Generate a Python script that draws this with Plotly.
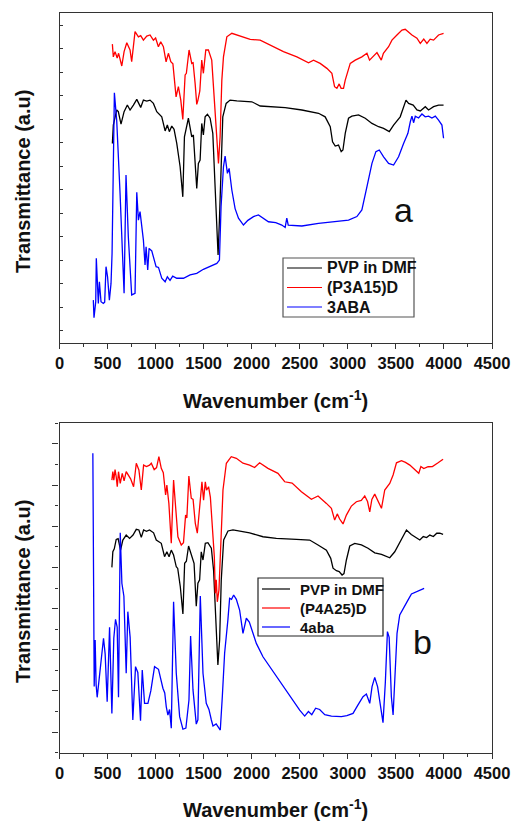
import plotly.graph_objects as go

# ---------------- Panel a data (wavenumber cm-1, transmittance a.u.) ----------------
a_pvp_x = [550, 560, 595, 612, 640, 672, 706, 734, 769, 804, 845, 873, 908, 942, 977, 1012, 1064, 1099, 1122, 1143,
           1168, 1192, 1220, 1255, 1283, 1300, 1341, 1359, 1376, 1393, 1418, 1428, 1445, 1463, 1480, 1497, 1515, 1539,
           1567, 1595, 1619, 1637, 1650, 1664, 1678, 1699, 1734, 1775, 1845, 2001, 2088, 2174, 2348, 2522, 2695, 2764,
           2817, 2841, 2869, 2903, 2931, 2949, 2973, 3007, 3042, 3111, 3181, 3251, 3320, 3372, 3431, 3476, 3545, 3605,
           3632, 3680, 3719, 3754, 3806, 3840, 3892, 3944, 3996]
a_pvp_y = [8.47, 9.25, 9.89, 9.82, 9.29, 9.82, 10.1, 9.89, 10.1, 10.34, 10.0, 10.31, 10.27, 10.31, 10.17, 9.82, 9.6, 9.0,
           9.25, 8.97, 9.21, 9.07, 8.47, 7.48, 6.2, 8.75, 9.54, 9.18, 8.75, 8.83, 7.2, 6.56, 7.62, 7.76, 9.32, 8.83, 9.6,
           9.71, 9.54, 8.9, 6.63, 4.93, 3.73, 5.21, 7.34, 9.6, 10.17, 10.31, 10.28, 10.24, 10.06, 10.03, 9.99, 9.89, 9.75,
           9.6, 9.18, 8.54, 8.36, 8.4, 8.12, 8.19, 8.9, 9.54, 9.63, 9.68, 9.54, 9.32, 9.18, 9.11, 8.97, 9.25, 9.6, 10.31,
           10.17, 10.1, 9.89, 9.85, 10.03, 9.89, 10.03, 10.1, 10.1]

a_red_x = [550, 560, 578, 600, 615, 630, 648, 672, 700, 734, 751, 786, 821, 845, 873, 908, 942, 977, 1000, 1029, 1053,
           1081, 1109, 1133, 1158, 1180, 1213, 1237, 1262, 1283, 1307, 1320, 1348, 1376, 1390, 1411, 1428, 1440, 1460,
           1480, 1497, 1522, 1549, 1584, 1608, 1637, 1654, 1671, 1689, 1706, 1741, 1793, 1845, 1984, 2088, 2192, 2330,
           2470, 2591, 2643, 2712, 2782, 2834, 2862, 2886, 2910, 2930, 2955, 2973, 3025, 3077, 3146, 3199, 3226, 3260,
           3303, 3348, 3370, 3424, 3459, 3511, 3563, 3597, 3630, 3667, 3719, 3754, 3790, 3823, 3857, 3892, 3944, 3996]
a_red_y = [12.69, 12.15, 12.37, 12.1, 12.3, 12.01, 11.76, 12.37, 12.75, 12.44, 11.94, 13.22, 13.0, 13.05, 12.86, 13.03,
           13.08, 12.86, 12.95, 12.58, 12.79, 12.58, 11.94, 12.3, 11.94, 11.85, 10.45, 10.88, 10.31, 9.49, 11.38, 11.45,
           12.44, 11.87, 11.9, 11.02, 10.13, 10.3, 10.7, 12.01, 11.45, 12.44, 12.44, 12.01, 10.45, 8.9, 7.62, 8.75, 11.16,
           12.15, 13.0, 13.15, 13.08, 12.89, 12.86, 12.65, 12.37, 12.15, 11.9, 12.01, 11.87, 11.66, 11.45, 10.88, 10.81,
           11.0, 10.81, 10.81, 11.16, 11.87, 12.01, 12.15, 12.3, 12.01, 12.15, 12.33, 12.01, 12.3, 12.58, 12.86, 13.08,
           13.29, 13.32, 13.2, 13.08, 12.94, 12.72, 12.9, 12.72, 12.9, 12.86, 13.08, 13.15]

a_blue_x = [352, 359, 377, 383, 404, 415, 432, 456, 470, 484, 500, 519, 536, 547, 571, 595, 630, 672, 692, 716, 751,
            786, 804, 821, 838, 873, 890, 901, 918, 932, 960, 1005, 1030, 1064, 1099, 1122, 1150, 1178, 1220, 1290, 1359,
            1428, 1497, 1567, 1637, 1664, 1681, 1706, 1723, 1747, 1765, 1793, 1827, 1862, 1914, 1960, 2018, 2070, 2120,
            2174, 2250, 2313, 2348, 2365, 2380, 2470, 2522, 2695, 2869, 3007, 3094, 3146, 3199, 3251, 3292, 3327, 3372,
            3424, 3476, 3528, 3580, 3625, 3650, 3667, 3685, 3702, 3736, 3771, 3805, 3840, 3875, 3910, 3944, 3979, 3996]
a_blue_y = [1.81, 1.06, 1.74, 3.59, 1.67, 2.59, 1.74, 1.67, 1.72, 3.23, 2.8, 1.81, 2.52, 3.8, 10.62, 9.46, 6.35, 2.1,
            7.13, 4.5, 2.03, 2.1, 6.39, 5.21, 5.57, 4.36, 3.3, 4.08, 3.09, 4.01, 3.9, 3.23, 3.2, 2.74, 2.59, 2.8, 2.65,
            2.83, 2.74, 2.74, 2.88, 2.95, 3.12, 3.23, 3.37, 3.51, 5.78, 7.48, 7.93, 7.2, 7.41, 6.49, 5.7, 5.29, 5.0, 5.2,
            5.36, 5.43, 5.3, 5.14, 5.1, 5.0, 4.9, 5.29, 5.0, 4.96, 4.96, 5.07, 5.14, 5.21, 5.36, 5.64, 6.63, 7.62, 8.12,
            8.19, 7.9, 7.62, 7.55, 7.9, 8.47, 8.9, 9.39, 9.63, 9.35, 9.63, 9.55, 9.72, 9.6, 9.63, 9.55, 9.63, 9.46, 9.25,
            8.69]

# ---------------- Panel b data ----------------
b_pvp_x = [545, 555, 570, 590, 610, 635, 659, 694, 729, 765, 799, 826, 851, 875, 905, 937, 979, 1007, 1059, 1093, 1117,
           1140, 1163, 1187, 1215, 1230, 1257, 1284, 1302, 1320, 1343, 1370, 1388, 1400, 1423, 1440, 1458, 1475, 1493,
           1517, 1544, 1580, 1603, 1631, 1648, 1666, 1683, 1708, 1753, 1805, 1978, 2117, 2256, 2465, 2603, 2690, 2777,
           2822, 2846, 2881, 2910, 2940, 2960, 2985, 3020, 3072, 3141, 3210, 3280, 3350, 3436, 3488, 3558, 3610, 3660,
           3714, 3749, 3785, 3820, 3853, 3890, 3925, 3957, 3991]
b_pvp_y = [9.0, 9.76, 9.9, 10.36, 10.4, 9.84, 10.33, 10.57, 10.41, 10.57, 10.85, 10.82, 10.46, 10.82, 10.75, 10.82,
           10.68, 10.33, 10.17, 9.52, 9.76, 9.52, 9.84, 9.6, 9.03, 8.95, 8.06, 6.74, 9.2, 9.3, 10.04, 9.6, 9.36, 9.2,
           7.12, 8.23, 8.4, 9.76, 9.36, 10.17, 10.2, 9.93, 8.87, 6.12, 4.26, 5.47, 8.39, 10.33, 10.77, 10.82, 10.68,
           10.49, 10.41, 10.36, 10.33, 10.09, 9.84, 9.44, 8.96, 8.84, 8.8, 8.63, 8.7, 9.36, 10.04, 10.17, 10.09, 9.93,
           9.71, 9.63, 9.47, 9.76, 10.33, 10.82, 10.6, 10.41, 10.33, 10.5, 10.45, 10.57, 10.5, 10.66, 10.66, 10.61]

b_red_x = [545, 555, 565, 578, 590, 601, 614, 632, 653, 672, 694, 715, 740, 771, 799, 826, 851, 875, 905, 937, 955, 985,
           1010, 1034, 1059, 1080, 1104, 1117, 1138, 1163, 1187, 1208, 1232, 1267, 1290, 1312, 1325, 1346, 1371, 1390,
           1413, 1434, 1458, 1482, 1499, 1517, 1530, 1551, 1570, 1597, 1611, 1621, 1631, 1642, 1659, 1683, 1701, 1736,
           1787, 1840, 1909, 1978, 2030, 2082, 2169, 2273, 2343, 2420, 2517, 2621, 2690, 2777, 2829, 2863, 2890, 2915,
           2950, 2985, 3037, 3089, 3140, 3176, 3205, 3228, 3250, 3280, 3315, 3350, 3384, 3436, 3471, 3506, 3558, 3600,
           3645, 3700, 3738, 3760, 3790, 3835, 3880, 3939, 3991]
b_red_y = [13.24, 13.65, 13.24, 13.75, 13.4, 12.92, 13.65, 13.08, 13.57, 13.2, 13.65, 13.5, 13.3, 12.92, 14.06, 13.73,
           12.76, 13.97, 13.9, 13.97, 14.06, 13.75, 13.85, 14.38, 13.81, 13.6, 12.52, 13.0, 12.11, 10.17, 13.24, 11.95,
           10.49, 10.09, 10.2, 11.54, 11.4, 13.44, 12.36, 12.3, 11.14, 10.66, 11.95, 13.16, 12.27, 13.16, 12.75, 12.92,
           12.4, 10.33, 9.52, 7.74, 8.4, 7.33, 7.9, 10.66, 12.76, 14.06, 14.38, 14.3, 14.06, 13.97, 13.85, 14.08, 13.81,
           13.57, 13.16, 13.1, 12.68, 12.31, 12.47, 12.11, 11.87, 11.3, 11.6, 11.35, 11.11, 11.54, 11.98, 12.19, 12.25,
           12.47, 12.2, 11.7, 12.3, 12.56, 12.2, 11.87, 12.76, 13.08, 13.49, 14.08, 14.18, 14.1, 13.97, 13.75, 13.57,
           13.9, 13.8, 13.89, 13.9, 14.08, 14.25]

b_blue_x = [347, 361, 371, 381, 392, 416, 458, 475, 496, 521, 545, 565, 583, 600, 614, 632, 649, 670, 694, 711, 735,
            763, 791, 815, 843, 861, 885, 920, 950, 989, 1030, 1076, 1095, 1111, 1128, 1145, 1163, 1187, 1215, 1250,
            1284, 1315, 1347, 1364, 1389, 1423, 1440, 1465, 1493, 1527, 1555, 1580, 1597, 1630, 1650, 1673, 1694, 1718,
            1752, 1770, 1790, 1812, 1840, 1874, 1909, 1944, 1975, 2013, 2048, 2117, 2187, 2291, 2395, 2499, 2551, 2590,
            2625, 2665, 2707, 2760, 2829, 2933, 2990, 3054, 3106, 3158, 3193, 3228, 3252, 3280, 3310, 3342, 3366, 3390,
            3412, 3430, 3453, 3471, 3490, 3512, 3540, 3575, 3627, 3662, 3710, 3766, 3794]
b_blue_y = [14.54, 3.21, 5.47, 3.3, 2.69, 3.86, 5.56, 4.8, 2.48, 6.09, 1.91, 5.56, 6.48, 6.1, 2.69, 10.68, 8.23, 7.6,
            3.86, 6.85, 5.6, 1.59, 4.18, 3.9, 1.55, 4.02, 2.4, 2.4, 3.0, 4.18, 4.05, 3.13, 2.9, 2.23, 1.83, 2.1, 1.19,
            7.33, 3.86, 1.75, 1.14, 1.2, 2.56, 5.67, 3.05, 1.39, 1.6, 7.61, 3.86, 2.4, 2.1, 1.59, 1.3, 1.4, 1.25, 1.1,
            2.72, 4.83, 6.45, 7.5, 7.45, 7.66, 7.45, 6.93, 5.8, 6.53, 6.35, 5.8, 5.31, 4.66, 4.18, 3.53, 2.8, 2.07, 1.78,
            2.0, 1.85, 2.16, 2.1, 1.85, 1.78, 1.75, 1.8, 1.91, 2.32, 2.72, 2.85, 2.4, 3.21, 3.66, 3.2, 2.07, 1.46, 3.4,
            5.88, 5.6, 2.72, 1.83, 3.6, 5.8, 6.69, 7.01, 7.42, 7.71, 7.8, 7.9, 7.98]

names_a = ["PVP in DMF", "(P3A15)D", "3ABA"]
names_b = ["PVP in DMF", "(P4A25)D", "4aba"]
colors = ["#000000", "#ff0000", "#0000ff"]
x_ticks = [0, 500, 1000, 1500, 2000, 2500, 3000, 3500, 4000, 4500]

W, H = 512, 823
FONT = "Liberation Sans, Arial, sans-serif"
fig = go.Figure()

for xs, ys, name, col in zip([a_pvp_x, a_red_x, a_blue_x], [a_pvp_y, a_red_y, a_blue_y], names_a, colors):
    fig.add_trace(go.Scatter(x=xs, y=ys, mode="lines", name=name, line=dict(color=col, width=1.3),
                             xaxis="x", yaxis="y", showlegend=False))
for xs, ys, name, col in zip([b_pvp_x, b_red_x, b_blue_x], [b_pvp_y, b_red_y, b_blue_y], names_b, colors):
    fig.add_trace(go.Scatter(x=xs, y=ys, mode="lines", name=name, line=dict(color=col, width=1.3),
                             xaxis="x2", yaxis="y2", showlegend=False))

xdom = [59.5 / W, 492 / W]
common_x = dict(range=[0, 4500], tickvals=x_ticks, ticktext=[str(t) for t in x_ticks], ticks="outside",
                ticklen=5, tickwidth=1, tickcolor="#333", showline=True, linecolor="#333", linewidth=1.2,
                mirror=True, showgrid=False, zeroline=False, automargin=False,
                tickfont=dict(family=FONT, size=16.5, color="#111", weight="bold"),
                minor=dict(dtick=250, tick0=0, ticks="outside", ticklen=3, tickcolor="#333", showgrid=False))

fig.update_layout(
    template="none",
    width=W, height=H,
    margin=dict(l=0, r=0, t=0, b=0, pad=0, autoexpand=False),
    paper_bgcolor="white", plot_bgcolor="white",
    showlegend=False,
    xaxis=dict(domain=xdom, anchor="y", **common_x),
    yaxis=dict(domain=[1 - 342.7 / H, 1 - 13.3 / H], anchor="x", range=[0, 14], tick0=0.5, dtick=1,
               ticks="inside", ticklen=3, tickcolor="#333", showticklabels=False, showline=True,
               linecolor="#333", linewidth=1.2, mirror=True, showgrid=False, zeroline=False, automargin=False),
    xaxis2=dict(domain=xdom, anchor="y2", **common_x),
    yaxis2=dict(domain=[1 - 752.7 / H, 1 - 423.3 / H], anchor="x2", range=[0, 16], tick0=1, dtick=2,
                ticks="outside", ticklen=6, tickcolor="#333", showticklabels=False, showline=True,
                linecolor="#333", linewidth=1.2, mirror=True, showgrid=False, zeroline=False, automargin=False,
                minor=dict(dtick=1, tick0=0, ticks="outside", ticklen=3, tickcolor="#333", showgrid=False)),
)

title_font = dict(family=FONT, size=20, color="#111", weight="bold")
ann = []
shapes = []
for ybot in [414, 823]:
    ann.append(dict(text="Wavenumber (cm<sup>-1</sup>)", x=(59.5 + 492) / 2 / W, y=1 - ybot / H, xref="paper",
                    yref="paper", showarrow=False, font=title_font, xanchor="center", yanchor="bottom"))
for yc in [182, 592]:
    ann.append(dict(text="Transmittance (a.u)", x=23 / W, y=1 - yc / H, xref="paper", yref="paper",
                    showarrow=False, font=title_font, textangle=-90, xanchor="center", yanchor="middle"))
ann.append(dict(text="a", x=403 / W, y=1 - 210 / H, xref="paper", yref="paper", showarrow=False,
                font=dict(family=FONT, size=34, color="#111"), xanchor="center", yanchor="middle"))
ann.append(dict(text="b", x=422 / W, y=1 - 642 / H, xref="paper", yref="paper", showarrow=False,
                font=dict(family=FONT, size=34, color="#111"), xanchor="center", yanchor="middle"))

# legend boxes (drawn as shapes + text)
legend_specs = [
    dict(names=names_a, box=(283, 258, 414, 317), line=(287, 322), text_x=325, rows=(268, 287.5, 307),
         border="#555", size=16),
    dict(names=names_b, box=(258, 578, 383, 636), line=(262, 290), text_x=298, rows=(589, 608, 627),
         border="#222", size=15),
]
for spec in legend_specs:
    leg_font = dict(family=FONT, size=spec["size"], color="#111", weight="bold")
    x0, y0, x1, y1 = spec["box"]
    shapes.append(dict(type="rect", xref="paper", yref="paper", x0=x0 / W, x1=x1 / W, y0=1 - y0 / H, y1=1 - y1 / H,
                       line=dict(color=spec["border"], width=1.2), fillcolor="white", layer="above"))
    for name, col, ry in zip(spec["names"], colors, spec["rows"]):
        shapes.append(dict(type="line", xref="paper", yref="paper", x0=spec["line"][0] / W, x1=spec["line"][1] / W,
                           y0=1 - ry / H, y1=1 - ry / H, line=dict(color=col, width=1.2), layer="above"))
        ann.append(dict(text=name, x=spec["text_x"] / W, y=1 - ry / H, xref="paper", yref="paper",
                        showarrow=False, font=leg_font, xanchor="left", yanchor="middle"))

fig.update_layout(annotations=ann, shapes=shapes)

fig.write_html("out.html", config={"responsive": False})
